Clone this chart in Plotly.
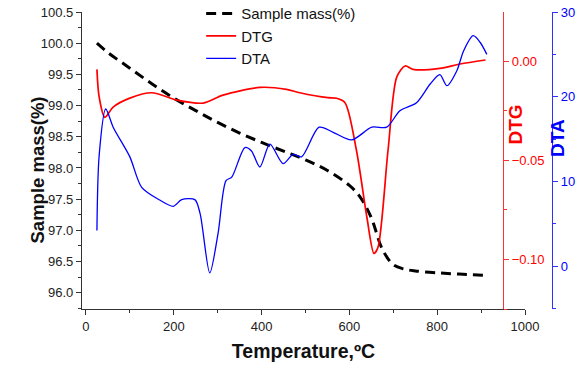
import plotly.graph_objects as go

# ---- data ----
mass_temp = [25, 50, 100, 150, 200, 250, 300, 350, 400, 450, 500, 550, 600, 625, 650, 675, 700, 725, 750, 800, 850, 910]
mass_pct = [100.0, 99.85, 99.6, 99.35, 99.12, 98.92, 98.73, 98.56, 98.41, 98.27, 98.13, 97.96, 97.72, 97.53, 97.2, 96.7, 96.45, 96.38, 96.35, 96.32, 96.30, 96.28]

dtg_temp = [25, 30, 43, 62, 100, 150, 207, 267, 312, 396, 457, 487, 551, 571, 590, 616, 640, 656, 665, 688, 708, 727, 745, 806, 852, 910]
dtg_val = [-0.0042, -0.018, -0.0284, -0.0232, -0.0187, -0.016, -0.0197, -0.0212, -0.0172, -0.0133, -0.0143, -0.016, -0.0185, -0.0188, -0.021, -0.045, -0.079, -0.097, -0.094, -0.045, -0.008, -0.0025, -0.0042, -0.0037, -0.0015, 0.0005]

dta_temp = [25, 30, 45, 62, 100, 127, 168, 199, 218, 248, 260, 282, 301, 319, 332, 362, 377, 396, 419, 449, 472, 491, 531, 563, 605, 651, 685, 715, 753, 784, 806, 822, 845, 860, 882, 898, 913]
dta_val = [4.2, 13.0, 18.55, 16.4, 12.9, 9.3, 7.8, 7.06, 7.85, 7.85, 6.2, -0.8, 3.9, 10.1, 10.5, 14.0, 13.6, 11.7, 14.4, 12.1, 13.2, 12.9, 16.4, 15.8, 14.9, 16.4, 16.4, 18.35, 19.3, 21.5, 22.6, 21.3, 23.1, 25.4, 27.2, 26.4, 25.0]

FONT = "Liberation Sans, Arial, sans-serif"
TICKF = dict(family=FONT, size=13, color="#222")

fig = go.Figure()
fig.add_trace(go.Scatter(x=mass_temp, y=mass_pct, name="Sample mass(%)", mode="lines",
                         line=dict(color="black", width=3, dash="10px,6px", shape="spline"), yaxis="y"))
fig.add_trace(go.Scatter(x=dtg_temp, y=dtg_val, name="DTG", mode="lines",
                         line=dict(color="#ff0000", width=1.7, shape="spline", smoothing=0.8), yaxis="y2"))
fig.add_trace(go.Scatter(x=dta_temp, y=dta_val, name="DTA", mode="lines",
                         line=dict(color="#0000ff", width=1.3, shape="spline", smoothing=0.8), yaxis="y3"))

fig.update_layout(
    width=587, height=370,
    margin=dict(l=82, r=35, t=12, b=61, autoexpand=False),
    paper_bgcolor="white", plot_bgcolor="white",
    font=dict(family=FONT, size=13, color="#222"),
    showlegend=True,
    legend=dict(x=0.2535, y=1.05, xanchor="left", yanchor="top", bgcolor="rgba(0,0,0,0)",
                font=dict(family=FONT, size=15, color="#111"), tracegroupgap=0),
    xaxis=dict(domain=[0, 0.9426], range=[-9, 1000], showgrid=False, zeroline=False,
               showline=True, linecolor="#333", linewidth=1.2, automargin=False,
               ticks="outside", ticklen=5, tickwidth=1, tickcolor="#333", dtick=200, tick0=0,
               minor=dict(ticks="outside", ticklen=3, dtick=100, tickcolor="#333"),
               tickfont=TICKF,
               title=dict(text="<b>Temperature,ºC</b>", font=dict(family=FONT, size=19.5, color="#111"), standoff=11)),
    yaxis=dict(range=[95.74, 100.5], showgrid=False, zeroline=False,
               showline=True, linecolor="#333", linewidth=1.2, automargin=False,
               ticks="outside", ticklen=5, tickwidth=1, tickcolor="#333", dtick=0.5, tick0=96,
               tickformat=".1f",
               minor=dict(ticks="outside", ticklen=3, dtick=0.25, tickcolor="#333"),
               tickfont=TICKF),
    yaxis2=dict(overlaying="y", side="right", anchor="free", position=0.8957, automargin=False,
                range=[-0.125, 0.0247], showgrid=False, zeroline=False,
                showline=True, linecolor="#ff3030", linewidth=1.2,
                ticks="outside", ticklen=5, tickcolor="#ff3030", dtick=0.05, tick0=0,
                tickformat=".2f",
                minor=dict(ticks="outside", ticklen=3, dtick=0.025, tickcolor="#ff3030"),
                tickfont=dict(family=FONT, size=13, color="#ff0000")),
    yaxis3=dict(overlaying="y", side="right", anchor="free", position=1.0, automargin=False,
                range=[-5.06, 30], showgrid=False, zeroline=False,
                showline=True, linecolor="#3030ff", linewidth=1.2,
                ticks="outside", ticklen=5, tickcolor="#3030ff", dtick=10, tick0=0,
                minor=dict(ticks="outside", ticklen=3, dtick=5, tickcolor="#3030ff"),
                tickfont=dict(family=FONT, size=13, color="#0000ff")),
    annotations=[
        dict(text="<b>Sample mass(%)</b>", x=24, y=170, xref="paper", yref="paper", showarrow=False, textangle=-90,
             font=dict(family=FONT, size=18.5, color="#111")),
        dict(text="<b>DTG</b>", x=527, y=103, xref="paper", yref="paper", showarrow=False, textangle=-90,
             font=dict(family=FONT, size=19, color="#ff0000")),
        dict(text="<b>DTA</b>", x=569.5, y=138, xref="paper", yref="paper", showarrow=False, textangle=-90,
             font=dict(family=FONT, size=19, color="#0000ff")),
    ],
)

# convert pixel positions of the rotated titles to paper coords
plot_l, plot_t, plot_w, plot_h = 82, 12, 470, 297
for ann in fig.layout.annotations:
    px, py = ann.x, ann.y
    ann.x = (px - plot_l) / plot_w
    ann.y = 1 - (py - plot_t) / plot_h

fig.write_html("out.html")
